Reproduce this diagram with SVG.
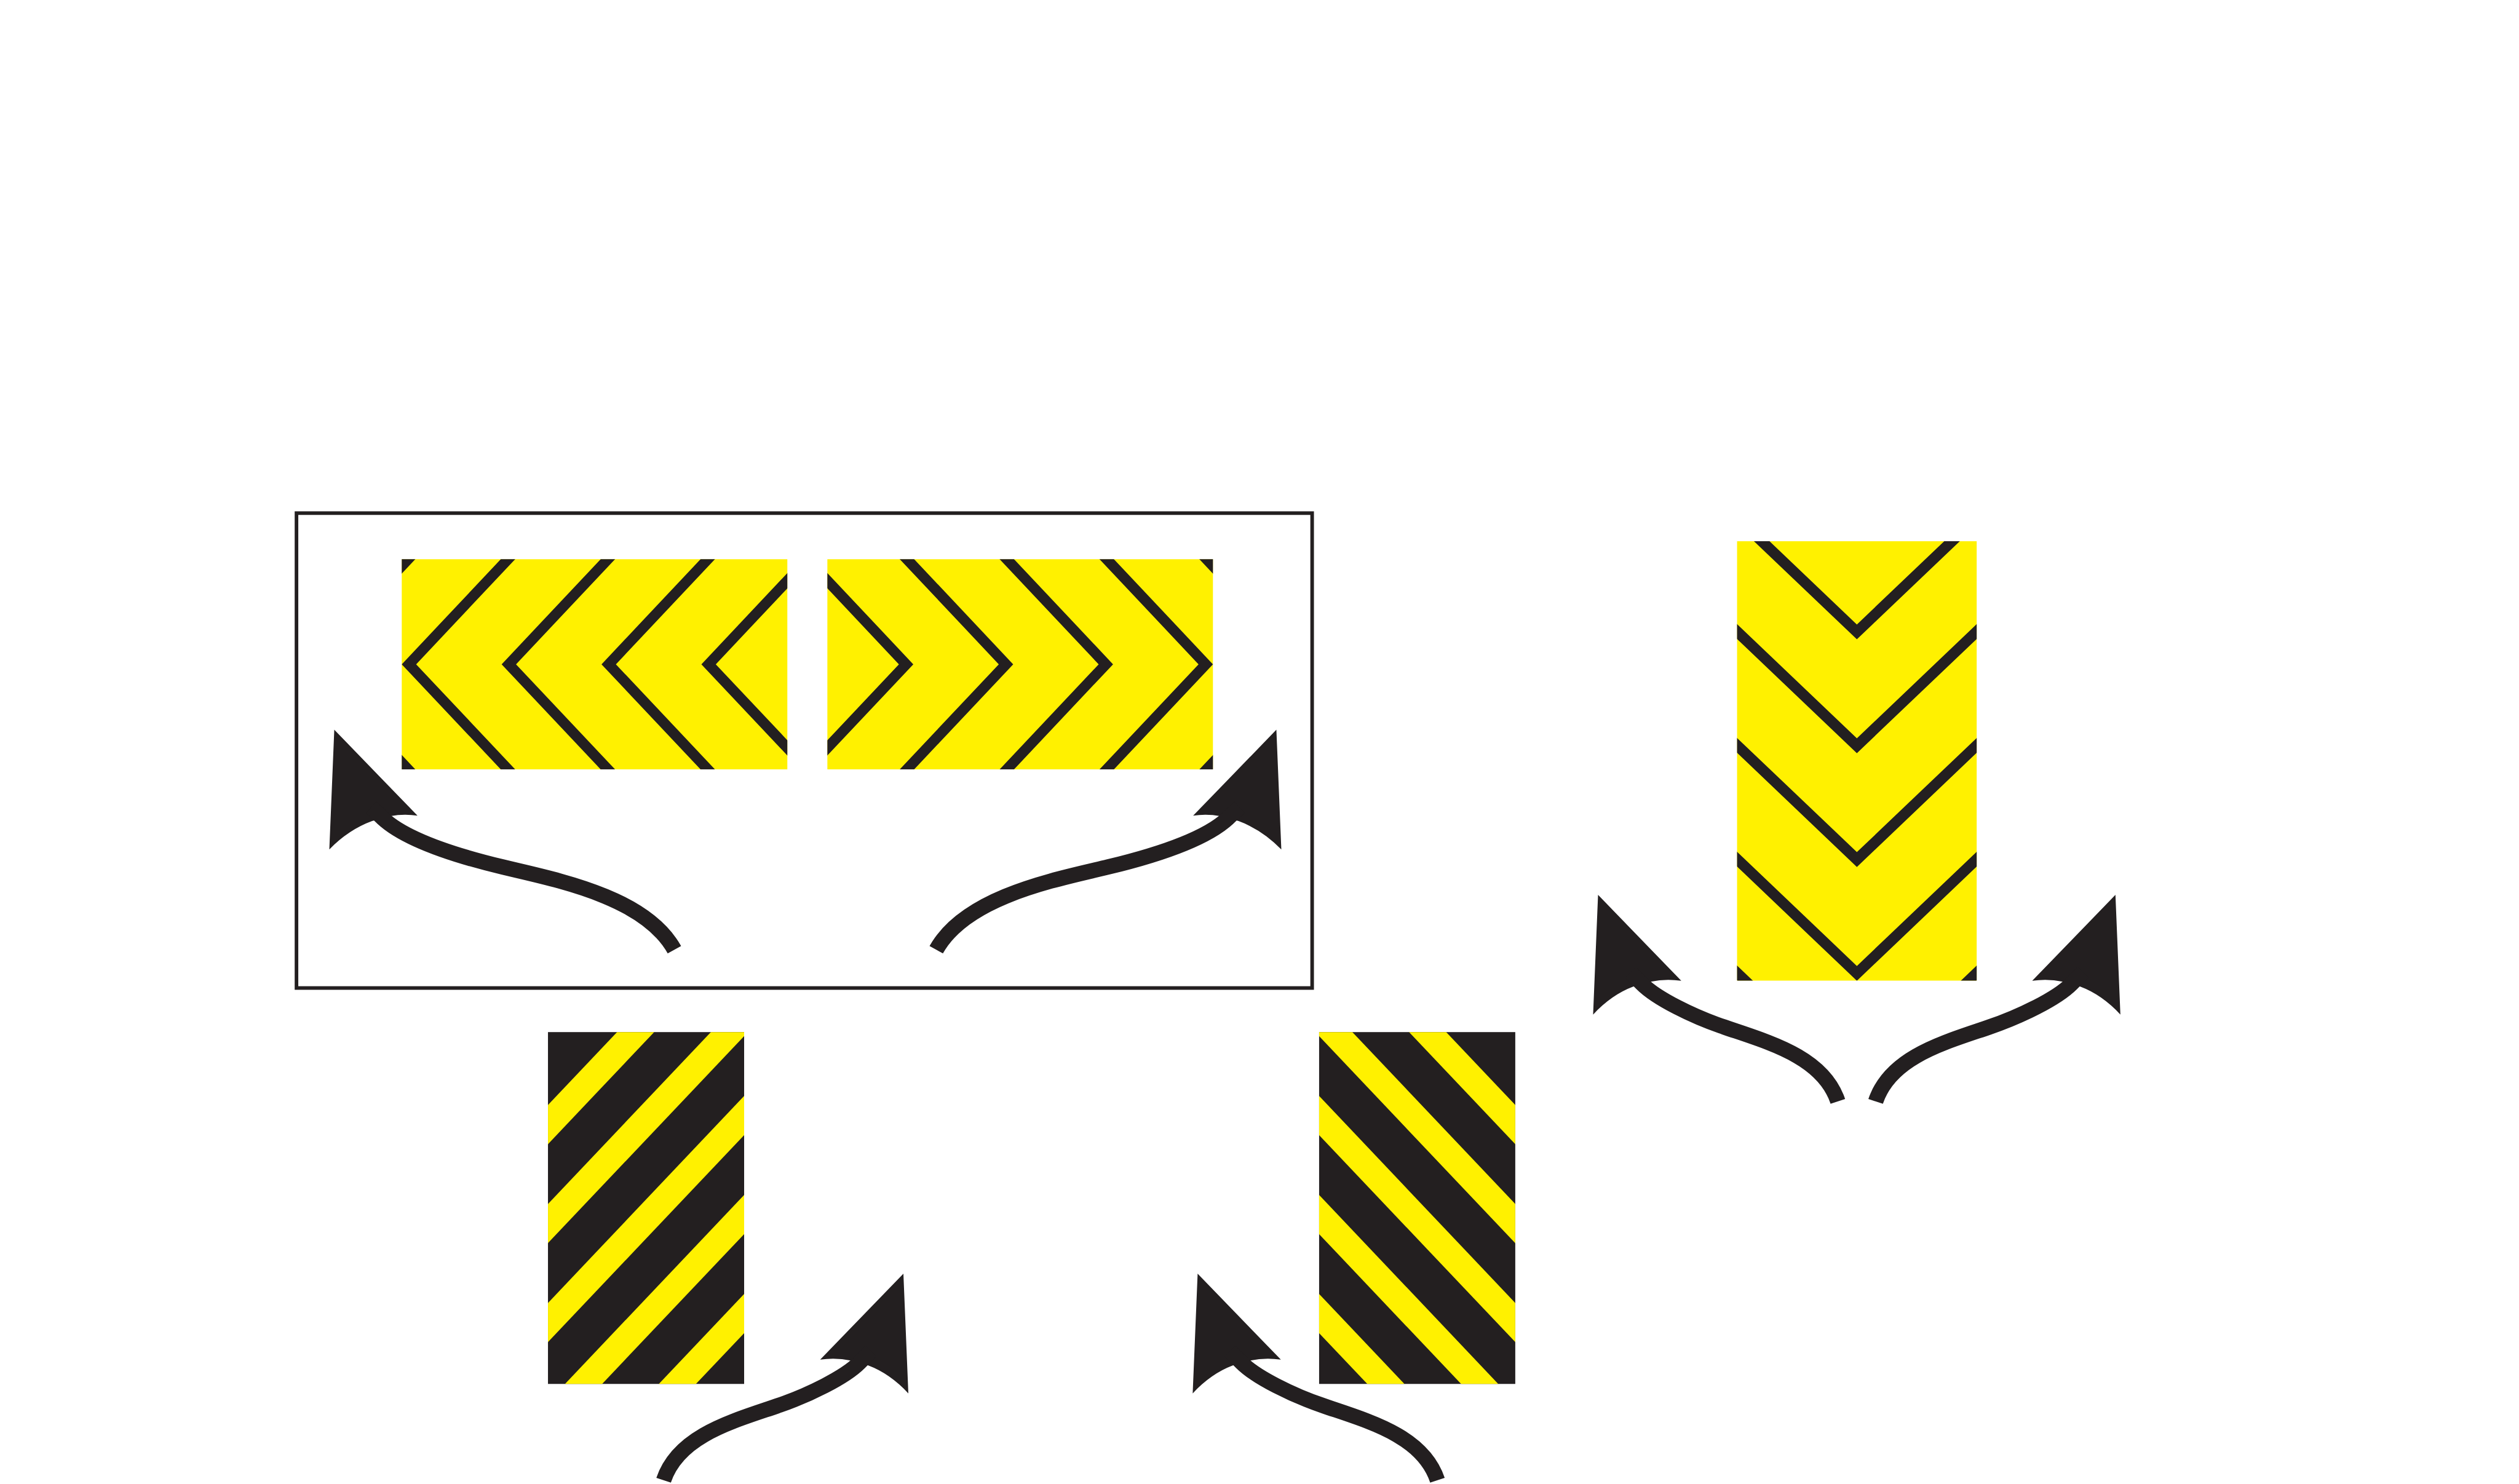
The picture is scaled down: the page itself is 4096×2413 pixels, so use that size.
<svg xmlns="http://www.w3.org/2000/svg" xmlns:xlink="http://www.w3.org/1999/xlink" width="4096" height="2413" viewBox="0 0 4096 2413">
<style>
.k{fill:#231f20}
.y{fill:#fff100}
.st{fill:none;stroke:#231f20;stroke-width:34;stroke-linejoin:round;stroke-linecap:butt}
.frame{fill:#ffffff;stroke:#231f20;stroke-width:8}
</style>
<defs>
  <clipPath id="cp1"><rect x="893" y="1243" width="857" height="467"/></clipPath>
  <clipPath id="cp3"><rect x="3861" y="1203" width="532.6" height="976.6"/></clipPath>
  <clipPath id="cp4"><rect x="1218" y="2294" width="436" height="782"/></clipPath>
  <polygon id="chevH" class="k" points="376.9,-400 0,0 376.9,400 408.9,400 32,0 408.9,-400"/>
  <polygon id="chevV" class="k" points="-400,-381.2 0,0 400,-381.2 400,-414.2 0,-33 -400,-414.2"/>
  <polygon id="band" class="y" points="-118,124.5 482,-508.5 482,-421.5 -118,211.5"/>
  <g id="panelH">
    <rect class="y" x="893" y="1243" width="857" height="467"/>
    <g clip-path="url(#cp1)">
      <use xlink:href="#chevH" transform="translate(671,1476.5)"/>
      <use xlink:href="#chevH" transform="translate(893,1476.5)"/>
      <use xlink:href="#chevH" transform="translate(1115,1476.5)"/>
      <use xlink:href="#chevH" transform="translate(1337,1476.5)"/>
      <use xlink:href="#chevH" transform="translate(1559,1476.5)"/>
    </g>
  </g>
  <g id="panelS">
    <rect class="k" x="1218" y="2294" width="436" height="782"/>
    <g clip-path="url(#cp4)">
      <use xlink:href="#band" transform="translate(1218,2456)"/>
      <use xlink:href="#band" transform="translate(1218,2676)"/>
      <use xlink:href="#band" transform="translate(1218,2896)"/>
      <use xlink:href="#band" transform="translate(1218,3116)"/>
      <use xlink:href="#band" transform="translate(1218,3336)"/>
    </g>
  </g>
  <g id="arrowS">
    <path class="k" d="M0,0 L185,191 Q150,186 117,193 L78,204 Q30,222 -11,266 Z"/>
    <path class="st" d="M72,172 L98,198 C130,230 210,270 281,294 C380,328 500,360 533,459"/>
  </g>
  <g id="arrowL">
    <path class="k" d="M0,0 L185,191 Q155,186 125,192 L84,203 Q32,222 -11,266 Z"/>
    <path class="st" d="M82,172 L108,197 C160,245 270,280 374,305 C490,333 690,370 756,489"/>
  </g>
</defs>
<rect x="0" y="0" width="4096" height="2413" fill="#ffffff"/>
<g transform="scale(0.73156)">
  <g id="sign-frame">
    <rect class="frame" x="659" y="1140.5" width="2257.5" height="1055.5"/>
  </g>
  <g id="chevron-panel-left">
    <use xlink:href="#panelH"/>
  </g>
  <g id="chevron-panel-right">
    <use xlink:href="#panelH" transform="translate(3589,0) scale(-1,1)"/>
  </g>
  <g id="chevron-panel-vertical">
    <rect class="y" x="3861" y="1203" width="532.6" height="976.6"/>
    <g clip-path="url(#cp3)">
      <use xlink:href="#chevV" transform="translate(4127.3,1421)"/>
      <use xlink:href="#chevV" transform="translate(4127.3,1674)"/>
      <use xlink:href="#chevV" transform="translate(4127.3,1927)"/>
      <use xlink:href="#chevV" transform="translate(4127.3,2180)"/>
      <use xlink:href="#chevV" transform="translate(4127.3,2433)"/>
    </g>
  </g>
  <g id="stripe-panel-left">
    <use xlink:href="#panelS"/>
  </g>
  <g id="stripe-panel-right">
    <use xlink:href="#panelS" transform="translate(4586,0) scale(-1,1)"/>
  </g>
  <g id="connectors">
    <use xlink:href="#arrowL" transform="translate(743,1622)"/>
    <use xlink:href="#arrowL" transform="translate(2837,1622) scale(-1,1)"/>
    <use xlink:href="#arrowS" transform="translate(3552,1989)"/>
    <use xlink:href="#arrowS" transform="translate(4702,1989) scale(-1,1)"/>
    <use xlink:href="#arrowS" transform="translate(2008,2831) scale(-1,1)"/>
    <use xlink:href="#arrowS" transform="translate(2662,2831)"/>
  </g>
</g>
</svg>
